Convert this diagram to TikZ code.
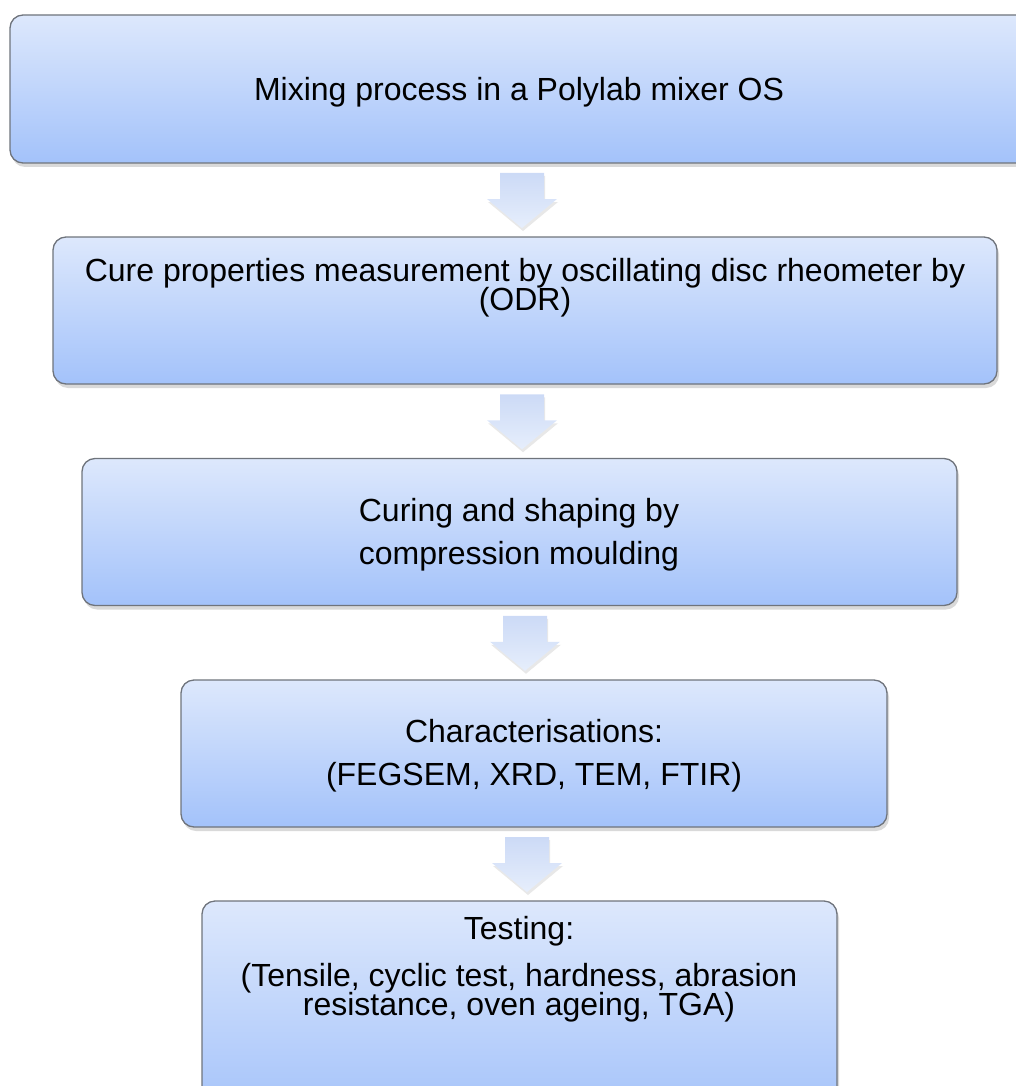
\documentclass[tikz,border=0pt]{standalone}
\usepackage{fontspec}
\setmainfont{Liberation Sans}
\usetikzlibrary{shadows,calc}
\definecolor{boxtop}{HTML}{DDE8FC}
\definecolor{boxbot}{HTML}{A3C2FA}
\definecolor{boxline}{HTML}{6F747C}
\definecolor{arrtop}{HTML}{CCDAF6}
\definecolor{arrbot}{HTML}{E6EEFC}
\tikzset{
  stepbox/.style={draw=boxline, line width=1.3pt, rounded corners=13pt,
    top color=boxtop, bottom color=boxbot, inner sep=0pt,
    drop shadow={opacity=0.3, shadow xshift=2pt, shadow yshift=-4pt}},
  label text/.style={font=\fontsize{32}{36}\selectfont, text=black, anchor=base, inner sep=0pt},
  blockarrow/.style={top color=arrtop, bottom color=arrbot, draw=none,
    drop shadow={opacity=0.18, shadow xshift=1pt, shadow yshift=-3pt}}
}
\newcommand{\blockarr}[1]{%
  \path[blockarrow] ($(#1)+(-22,-27)$) -- ($(#1)+(22,-27)$) -- ($(#1)+(22,-1)$) --
    ($(#1)+(35,-1)$) -- ($(#1)+(0,28)$) -- ($(#1)+(-35,-1)$) -- ($(#1)+(-22,-1)$) -- cycle;}
\begin{document}
\begin{tikzpicture}[x=1pt,y=-1pt]
\useasboundingbox (0,0) rectangle (1016,1086);
\clip (0,0) rectangle (1016,1086);
% boxes
\node[stepbox, minimum width=1020pt, minimum height=148pt] (b1) at (520,89) {};
\node[stepbox, minimum width=944pt, minimum height=147pt] (b2) at (525,310.5) {};
\node[stepbox, minimum width=875pt, minimum height=147pt] (b3) at (519.5,532) {};
\node[stepbox, minimum width=706pt, minimum height=147pt] (b4) at (534,753.5) {};
\node[stepbox, minimum width=635pt, minimum height=220pt] (b5) at (519.5,1011) {};
% texts
\node[label text] (t1) at (519,101) {Mixing process in a Polylab mixer OS};
\node[label text] (t2a) at (525,281) {Cure properties measurement by oscillating disc rheometer by};
\node[label text] (t2b) at (525,310) {(ODR)};
\node[label text] (t3a) at (519,521) {Curing and shaping by};
\node[label text] (t3b) at (519,564) {compression moulding};
\node[label text] (t4a) at (534,742) {Characterisations:};
\node[label text] (t4b) at (534,785) {(FEGSEM, XRD, TEM, FTIR)};
\node[label text] (t5a) at (519,939) {Testing:};
\node[label text] (t5b) at (519,986) {(Tensile, cyclic test, hardness, abrasion};
\node[label text] (t5c) at (519,1015) {resistance, oven ageing, TGA)};
% arrows between boxes
\coordinate (m1) at ($(b1.south)!0.5!(b2.north)$);
\coordinate (m2) at ($(b2.south)!0.5!(b3.north)$);
\coordinate (m3) at ($(b3.south)!0.5!(b4.north)$);
\coordinate (m4) at ($(b4.south)!0.5!(b5.north)$);
\coordinate (a1) at (522,0 |- m1);
\coordinate (a2) at (522,0 |- m2);
\coordinate (a3) at (525,0 |- m3);
\coordinate (a4) at (527,0 |- m4);
\blockarr{a1}
\blockarr{a2}
\blockarr{a3}
\blockarr{a4}
\end{tikzpicture}
\end{document}
